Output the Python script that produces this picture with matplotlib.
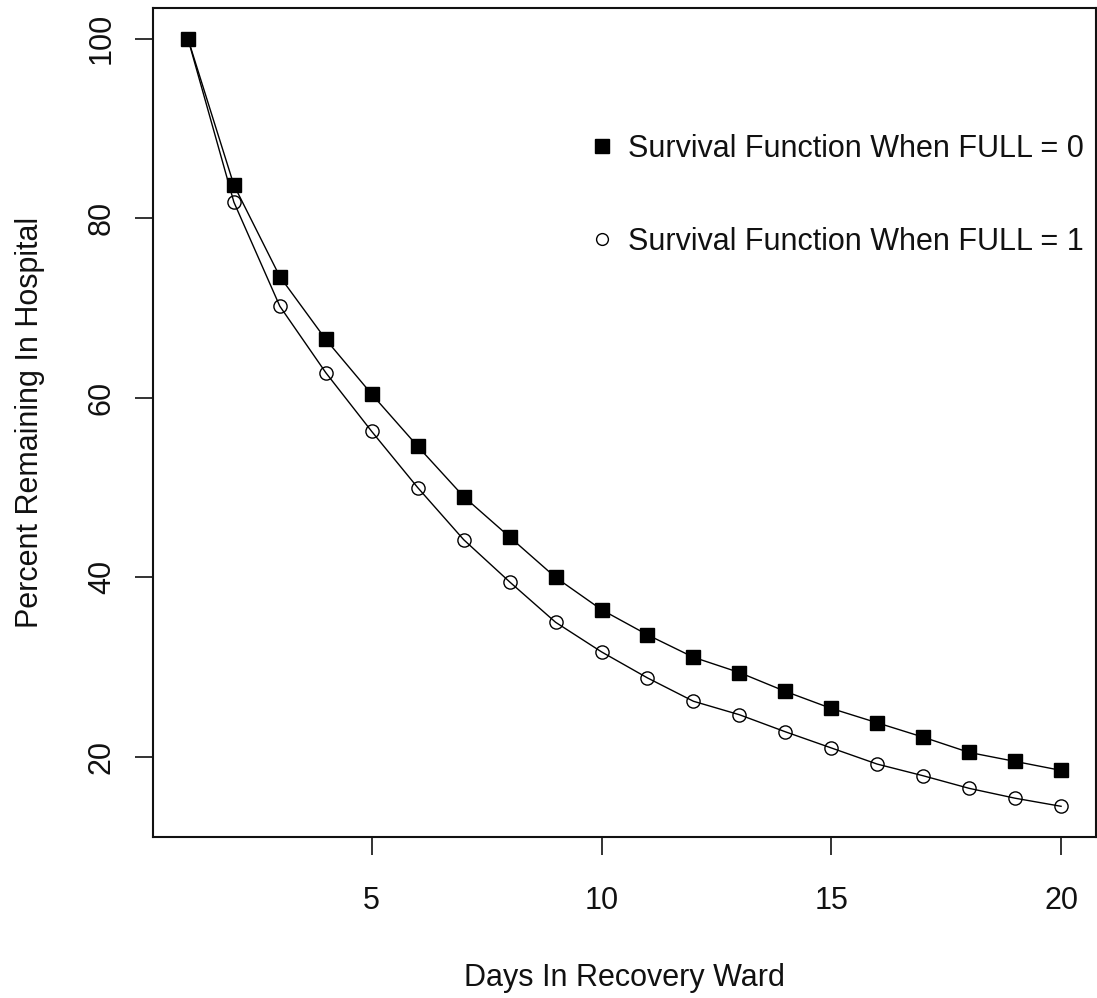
import matplotlib
matplotlib.use("Agg")
import matplotlib.pyplot as plt
from matplotlib.lines import Line2D

plt.rcParams['font.family'] = ['Liberation Sans', 'DejaVu Sans']

days = list(range(1, 21))
full0 = [100, 83.7, 73.5, 66.5, 60.4, 54.6, 49.0, 44.5, 40.0, 36.4,
         33.6, 31.1, 29.4, 27.3, 25.4, 23.8, 22.2, 20.5, 19.5, 18.5]
full1 = [100, 81.8, 70.2, 62.8, 56.25, 50.0, 44.2, 39.5, 35.0, 31.7,
         28.8, 26.2, 24.7, 22.8, 21.0, 19.2, 17.9, 16.5, 15.4, 14.5]
xticks = [5, 10, 15, 20]
yticks = [20, 40, 60, 80, 100]
labels = ["Survival Function When FULL = 0", "Survival Function When FULL = 1"]

fig = plt.figure(figsize=(10.97, 9.98), dpi=100)
ax = fig.add_axes([153/1097, 1-837/998, (1096-153)/1097, (837-8)/998])

ax.plot(days, full1, color='black', lw=1.0, marker='o', ms=9.5, mfc='none', mec='black', mew=1.0)
ax.plot(days, full0, color='black', lw=1.0, marker='s', ms=10, mfc='black', mec='black')

ymin, ymax = min(full1), max(full0)
pad = 0.04 * (ymax - ymin)
ax.set_ylim(ymin - pad, ymax + pad)
ax.set_xlim(1 - 0.04 * 19, 20 + 0.04 * 19)

ax.set_xticks(xticks)
ax.set_yticks(yticks)
ax.tick_params(direction='out', length=13, width=1.2, labelsize=22, color='#111111', labelcolor='#111111')
ax.tick_params(axis='x', pad=22)
ax.tick_params(axis='y', pad=13)
for lab in ax.get_yticklabels():
    lab.set_rotation(90)
    lab.set_va('center')
for s in ax.spines.values():
    s.set_linewidth(1.5)
    s.set_color('#111111')

ax.set_xlabel("Days In Recovery Ward", fontsize=22, labelpad=34, color='#111111')
ax.set_ylabel("Percent Remaining In Hospital", fontsize=22, labelpad=30, color='#111111')

handles = [Line2D([], [], ls='none', marker='s', ms=9.5, mfc='black', mec='black'),
           Line2D([], [], ls='none', marker='o', ms=8.5, mfc='none', mec='black')]
ax.legend(handles, labels, loc='upper left', bbox_to_anchor=((593-153)/943, 1-(134-8)/829),
          frameon=False, fontsize=22, handlelength=0.6, handletextpad=0.55,
          labelspacing=2.06, borderaxespad=0, borderpad=0, labelcolor='#111111')

fig.savefig("out.png", dpi=100)
